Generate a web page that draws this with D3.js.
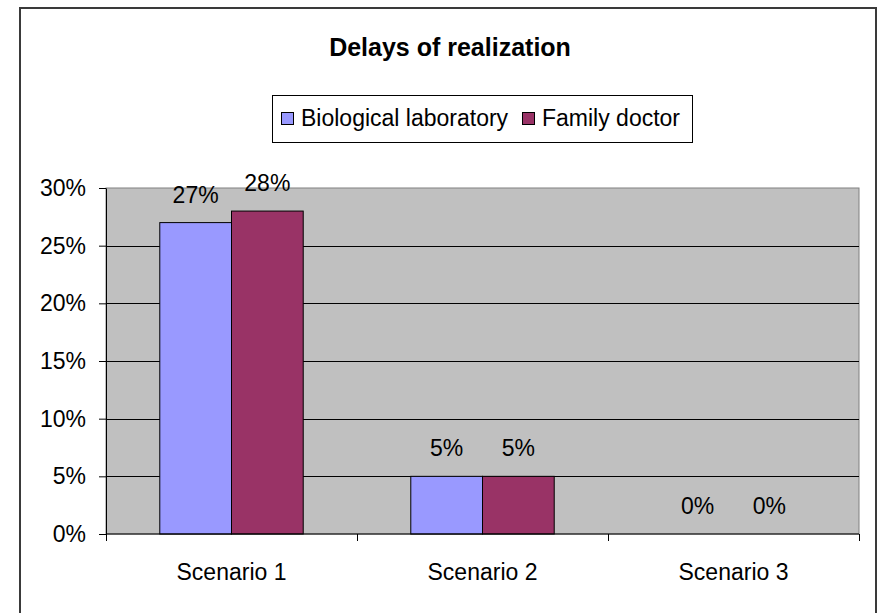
<!DOCTYPE html>
<html>
<head>
<meta charset="utf-8">
<script src="https://cdn.jsdelivr.net/npm/d3@7"></script>
<style>
  body { margin: 0; background: #fff; }
  svg text { font-family: "Liberation Sans", Arial, sans-serif; fill: #000; }
</style>
</head>
<body>
<svg id="chart"></svg>
<script>
// chart data
const categories = ["Scenario 1", "Scenario 2", "Scenario 3"];
const seriesNames = ["Biological laboratory", "Family doctor"];
const seriesColors = ["#9999ff", "#993366"];
const labValues = [0.27, 0.05, 0];
const doctorValues = [0.28, 0.05, 0];
const yTicks = [0, 0.05, 0.10, 0.15, 0.20, 0.25, 0.30];
const titleText = "Delays of realization";

const W = 878, H = 613;
const plot = { left: 106, top: 188, right: 859, bottom: 534 };

const svg = d3.select("#chart")
    .attr("width", W)
    .attr("height", H);

// outer chart frame
svg.append("rect")
    .attr("x", 20).attr("y", 8)
    .attr("width", 856).attr("height", 620)
    .attr("fill", "#fff")
    .attr("stroke", "#3a3a3a")
    .attr("stroke-width", 2);

// scales
const x = d3.scaleBand()
    .domain(categories)
    .range([plot.left, plot.right])
    .padding(0);

const xs = d3.scaleBand()
    .domain(seriesNames)
    .range([0, x.bandwidth()])
    .paddingInner(0)
    .paddingOuter(0.75);

const y = d3.scaleLinear()
    .domain([0, 0.30])
    .range([plot.bottom, plot.top]);

const fmt = d3.format(".0%");

// plot background
svg.append("rect")
    .attr("x", plot.left).attr("y", plot.top)
    .attr("width", plot.right - plot.left)
    .attr("height", plot.bottom - plot.top)
    .attr("fill", "#c0c0c0")
    .attr("stroke", "#808080")
    .attr("stroke-width", 1);

// gridlines
svg.append("g")
  .selectAll("line")
  .data(yTicks.filter(d => d > 0 && d < 0.30))
  .join("line")
    .attr("x1", plot.left).attr("x2", plot.right)
    .attr("y1", d => Math.round(y(d)) + 0.5)
    .attr("y2", d => Math.round(y(d)) + 0.5)
    .attr("stroke", "#000")
    .attr("stroke-width", 1);

// bars
const rows = categories.map((c, i) => ({ cat: c, vals: [labValues[i], doctorValues[i]] }));

const groups = svg.append("g")
  .selectAll("g")
  .data(rows)
  .join("g")
    .attr("transform", d => "translate(" + x(d.cat) + ",0)");

groups.selectAll("rect")
  .data(d => d.vals.map((v, j) => ({ name: seriesNames[j], v: v, color: seriesColors[j] })))
  .join("rect")
    .attr("x", d => xs(d.name))
    .attr("y", d => y(d.v))
    .attr("width", xs.bandwidth())
    .attr("height", d => y(0) - y(d.v))
    .attr("fill", d => d.color)
    .attr("stroke", d => d.v > 0 ? "#000" : "none")
    .attr("stroke-width", 1);

groups.selectAll("text")
  .data(d => d.vals.map((v, j) => ({ name: seriesNames[j], v: v })))
  .join("text")
    .attr("x", d => xs(d.name) + xs.bandwidth() / 2)
    .attr("y", d => y(d.v) - 20)
    .attr("text-anchor", "middle")
    .style("font-size", "23px")
    .text(d => fmt(d.v));

// y axis
const yAxis = svg.append("g")
    .attr("transform", "translate(" + plot.left + ",0)")
    .call(d3.axisLeft(y)
      .tickValues(yTicks)
      .tickSize(7)
      .tickSizeOuter(0)
      .tickPadding(13)
      .tickFormat(fmt));
yAxis.select(".domain").attr("stroke", "#000");
yAxis.selectAll(".tick line").attr("stroke", "#000");
yAxis.selectAll("text")
    .style("font-size", "23px")
    .attr("font-family", null);

// x axis
svg.append("line")
    .attr("x1", plot.left).attr("x2", plot.right)
    .attr("y1", plot.bottom).attr("y2", plot.bottom)
    .attr("stroke", "#000");

const boundaries = categories.map(c => x(c)).concat([x(categories[categories.length - 1]) + x.bandwidth()]);
svg.append("g")
  .selectAll("line")
  .data(boundaries)
  .join("line")
    .attr("x1", d => Math.round(d) + 0.5).attr("x2", d => Math.round(d) + 0.5)
    .attr("y1", plot.bottom).attr("y2", plot.bottom + 7)
    .attr("stroke", "#000");

svg.append("g")
  .selectAll("text")
  .data(categories)
  .join("text")
    .attr("x", d => x(d) + x.bandwidth() / 2)
    .attr("y", plot.bottom + 46)
    .attr("text-anchor", "middle")
    .style("font-size", "23px")
    .text(d => d);

// title
svg.append("text")
    .attr("x", 450)
    .attr("y", 56)
    .attr("text-anchor", "middle")
    .style("font-size", "25px")
    .style("font-weight", "bold")
    .text(titleText);

// legend
const legend = svg.append("g");
legend.append("rect")
    .attr("x", 272.5).attr("y", 95.5)
    .attr("width", 420).attr("height", 47)
    .attr("fill", "#fff")
    .attr("stroke", "#000");

const legendX = [281, 522];
const legendItems = legend.selectAll("g")
  .data(seriesNames)
  .join("g")
    .attr("transform", (d, i) => "translate(" + legendX[i] + ",112)");

legendItems.append("rect")
    .attr("x", 0.5).attr("y", 0.5)
    .attr("width", 12).attr("height", 12)
    .attr("fill", (d, i) => seriesColors[i])
    .attr("stroke", "#000");

legendItems.append("text")
    .attr("x", 20)
    .attr("y", 14)
    .style("font-size", "23px")
    .text(d => d);
</script>
</body>
</html>
